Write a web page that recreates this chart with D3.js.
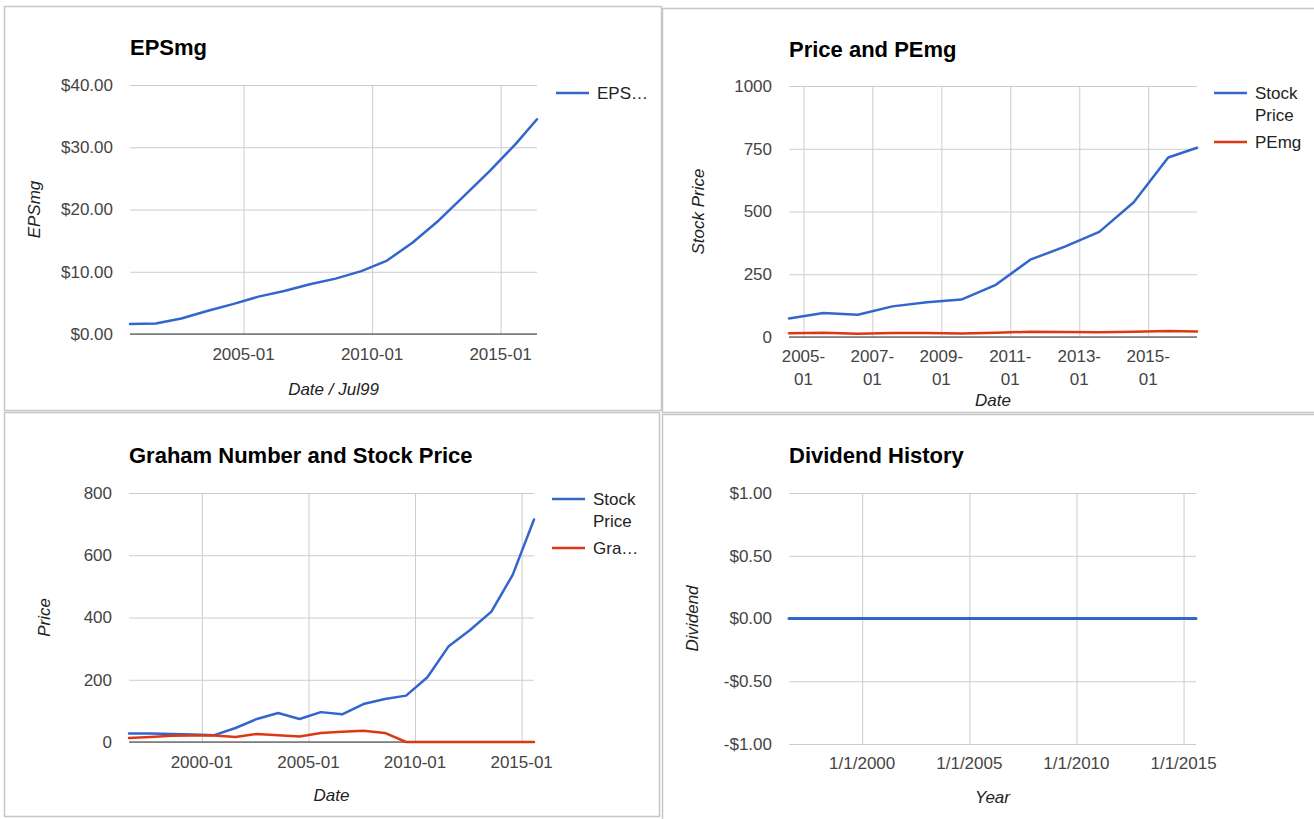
<!DOCTYPE html>
<html>
<head>
<meta charset="utf-8">
<script src="https://cdn.jsdelivr.net/npm/d3@7"></script>
<style>
  body { margin: 0; background: #fff; }
  svg { display: block; }
  text { font-family: Arial, "Liberation Sans", sans-serif; }
</style>
</head>
<body>
<svg id="board" width="1314" height="819"></svg>
<script>
// ---- data ----
// EPSmg, one value per fiscal year (last point = trailing figure)
const epsDates  = ["2000-08","2001-08","2002-08","2003-08","2004-08","2005-08","2006-08","2007-08","2008-08",
                   "2009-08","2010-08","2011-08","2012-08","2013-08","2014-08","2015-08","2016-06"];
const epsValues = [1.6, 1.7, 2.5, 3.7, 4.8, 6.0, 6.9, 8.0, 8.9, 10.1, 11.8, 14.7, 18.2, 22.2, 26.2, 30.5, 34.5];

// Stock price history
const priceDates  = ["1996-08","1997-08","1998-08","1999-08","2000-08","2001-08","2002-08","2003-08","2004-08",
                     "2005-08","2006-08","2007-08","2008-08","2009-08","2010-08","2011-08","2012-08","2013-08",
                     "2014-08","2015-08","2016-06"];
const priceValues = [27, 27, 26, 24, 22, 45, 74, 93, 74, 96, 89, 122, 138, 149, 208, 308, 360, 419, 537, 715, 754];

// PEmg from 2004 on
const peDates  = priceDates.slice(8);
const peValues = [15, 17, 13, 16, 16, 14, 17, 21, 20, 19, 21, 24, 22];

// Graham number, 1996-2015
const grahamDates  = priceDates.slice(0, 20);
const grahamValues = [13, 16, 20, 21, 21, 16, 26, 22, 18, 29, 33, 36, 29, 0, 0, 0, 0, 0, 0, 0];

// Dividends per share, 1996-2015
const dividendDates  = priceDates.slice(0, 20);
const dividendValues = [0, 0, 0, 0, 0, 0, 0, 0, 0, 0, 0, 0, 0, 0, 0, 0, 0, 0, 0, 0];

// Axis ticks
const epsYTicks      = [0, 10, 20, 30, 40];
const epsXTicks      = ["2005-01", "2010-01", "2015-01"];
const peYTicks       = [0, 250, 500, 750, 1000];
const peXTicks       = ["2005-01", "2007-01", "2009-01", "2011-01", "2013-01", "2015-01"];
const grahamYTicks   = [0, 200, 400, 600, 800];
const grahamXTicks   = ["2000-01", "2005-01", "2010-01", "2015-01"];
const dividendYTicks = [-1, -0.5, 0, 0.5, 1];
const dividendXTicks = ["2000-01", "2005-01", "2010-01", "2015-01"];

const BLUE = "#3366cc", RED = "#dc3912";
const parseMonth = d3.timeParse("%Y-%m");
const dollars = v => (v < 0 ? "-$" : "$") + Math.abs(v).toFixed(2);

const svg = d3.select("#board");

function drawPanel(cfg) {
  const g = svg.append("g");
  const p = cfg.plot;

  // panel frame
  g.append("rect")
    .attr("x", cfg.frame[0]).attr("y", cfg.frame[1])
    .attr("width", cfg.frame[2]).attr("height", cfg.frame[3])
    .attr("fill", "#fff").attr("stroke", "#c6c6c6").attr("stroke-width", 1.5);

  const allDates = cfg.series[0].dates.map(parseMonth);
  const x = d3.scaleTime().domain(d3.extent(allDates)).range([p.l, p.r]);
  const y = d3.scaleLinear().domain(cfg.yDomain).range([p.b, p.t]);

  // title
  g.append("text").attr("x", p.l).attr("y", cfg.titleY)
    .attr("font-size", 22).attr("font-weight", "bold").attr("fill", "#000")
    .text(cfg.title);

  // horizontal grid + y tick labels
  const yAxis = d3.axisLeft(y).tickValues(cfg.yTicks).tickFormat(cfg.yFormat)
    .tickSize(-(p.r - p.l)).tickPadding(17);
  const ya = g.append("g").attr("transform", `translate(${p.l},0)`).call(yAxis);
  ya.select(".domain").remove();
  ya.selectAll(".tick line").attr("stroke", "#cccccc");
  ya.selectAll(".tick text").attr("font-size", 17).attr("fill", "#444")
    .attr("font-family", "Arial, 'Liberation Sans', sans-serif");

  // vertical grid + x tick labels
  const xTickDates = cfg.xTicks.map(parseMonth);
  const xAxis = d3.axisBottom(x).tickValues(xTickDates).tickFormat("")
    .tickSize(-(p.b - p.t));
  const xa = g.append("g").attr("transform", `translate(0,${p.b})`).call(xAxis);
  xa.select(".domain").remove();
  xa.selectAll(".tick line").attr("stroke", "#cccccc");

  xTickDates.forEach((d, i) => {
    const lines = cfg.xLabel(cfg.xTicks[i]);
    lines.forEach((ln, j) => {
      g.append("text").attr("x", x(d)).attr("y", p.b + cfg.xLabelDy + j * 23)
        .attr("text-anchor", "middle").attr("font-size", 17).attr("fill", "#444")
        .text(ln);
    });
  });

  // zero baseline
  if (cfg.baseline) {
    g.append("line").attr("x1", p.l).attr("x2", p.r)
      .attr("y1", y(0)).attr("y2", y(0))
      .attr("stroke", "#333").attr("stroke-width", 1.2);
  }

  // axis titles
  g.append("text").attr("x", (p.l + p.r) / 2).attr("y", p.b + cfg.xTitleDy)
    .attr("text-anchor", "middle").attr("font-size", 17).attr("font-style", "italic")
    .attr("fill", "#222").text(cfg.xTitle);
  g.append("text")
    .attr("transform", `translate(${cfg.yTitleX},${(p.t + p.b) / 2}) rotate(-90)`)
    .attr("dy", "0.35em").attr("text-anchor", "middle").attr("font-size", 17)
    .attr("font-style", "italic").attr("fill", "#222").text(cfg.yTitle);

  // series lines
  cfg.series.forEach(s => {
    const pts = s.dates.map((d, i) => [parseMonth(d), s.values[i]]);
    g.append("path").datum(pts)
      .attr("fill", "none").attr("stroke", s.color).attr("stroke-width", cfg.lineWidth || 2.5)
      .attr("stroke-linejoin", "round").attr("stroke-linecap", "round")
      .attr("d", d3.line().x(d => x(d[0])).y(d => y(d[1])));
  });

  // legend
  if (cfg.legend) {
    let ly = cfg.legend.y;
    cfg.series.forEach(s => {
      g.append("line").attr("x1", cfg.legend.x).attr("x2", cfg.legend.x + 33)
        .attr("y1", ly).attr("y2", ly).attr("stroke", s.color).attr("stroke-width", 2.5);
      s.legend.forEach((ln, j) => {
        g.append("text").attr("x", cfg.legend.x + 41).attr("y", ly + 6 + j * 22)
          .attr("font-size", 17).attr("fill", "#222").text(ln);
      });
      ly += (s.legend.length - 1) * 22 + 27;
    });
  }
}

// EPSmg
drawPanel({
  frame: [4.5, 6.5, 657, 404],
  plot: { l: 130, r: 537, t: 85, b: 334 },
  title: "EPSmg", titleY: 55,
  yDomain: [0, 40], yTicks: epsYTicks, yFormat: dollars,
  xTicks: epsXTicks, xLabel: t => [t], xLabelDy: 26,
  xTitle: "Date / Jul99", xTitleDy: 61,
  yTitle: "EPSmg", yTitleX: 34,
  baseline: true,
  series: [{ dates: epsDates, values: epsValues, color: BLUE, legend: ["EPS…"] }],
  legend: { x: 556, y: 93 }
});

// Price and PEmg
drawPanel({
  frame: [662.5, 8.5, 670, 404],
  plot: { l: 789, r: 1197, t: 86, b: 337 },
  title: "Price and PEmg", titleY: 57,
  yDomain: [0, 1000], yTicks: peYTicks, yFormat: d3.format("d"),
  xTicks: peXTicks, xLabel: t => [t.slice(0, 5), t.slice(5)], xLabelDy: 25,
  xTitle: "Date", xTitleDy: 69,
  yTitle: "Stock Price", yTitleX: 698,
  baseline: true,
  series: [
    { dates: priceDates.slice(8), values: priceValues.slice(8), color: BLUE, legend: ["Stock", "Price"] },
    { dates: peDates, values: peValues, color: RED, legend: ["PEmg"] }
  ],
  legend: { x: 1214, y: 93 }
});

// Graham Number and Stock Price
drawPanel({
  frame: [4.5, 412.5, 655, 404],
  plot: { l: 129, r: 534, t: 493, b: 742 },
  title: "Graham Number and Stock Price", titleY: 463,
  yDomain: [0, 800], yTicks: grahamYTicks, yFormat: d3.format("d"),
  xTicks: grahamXTicks, xLabel: t => [t], xLabelDy: 26,
  xTitle: "Date", xTitleDy: 59,
  yTitle: "Price", yTitleX: 44,
  baseline: true,
  series: [
    { dates: priceDates.slice(0, 20), values: priceValues.slice(0, 20), color: BLUE, legend: ["Stock", "Price"] },
    { dates: grahamDates, values: grahamValues, color: RED, legend: ["Gra…"] }
  ],
  legend: { x: 552, y: 499 }
});

// Dividend History
drawPanel({
  frame: [662.5, 414.5, 670, 420],
  plot: { l: 789, r: 1196, t: 493, b: 744 },
  title: "Dividend History", titleY: 463,
  yDomain: [-1, 1], yTicks: dividendYTicks, yFormat: dollars,
  xTicks: dividendXTicks, xLabel: t => ["1/1/" + t.slice(0, 4)], xLabelDy: 25,
  xTitle: "Year", xTitleDy: 59,
  yTitle: "Dividend", yTitleX: 692,
  baseline: true, lineWidth: 3,
  series: [{ dates: dividendDates, values: dividendValues, color: BLUE, legend: [] }],
  legend: null
});
</script>
</body>
</html>
